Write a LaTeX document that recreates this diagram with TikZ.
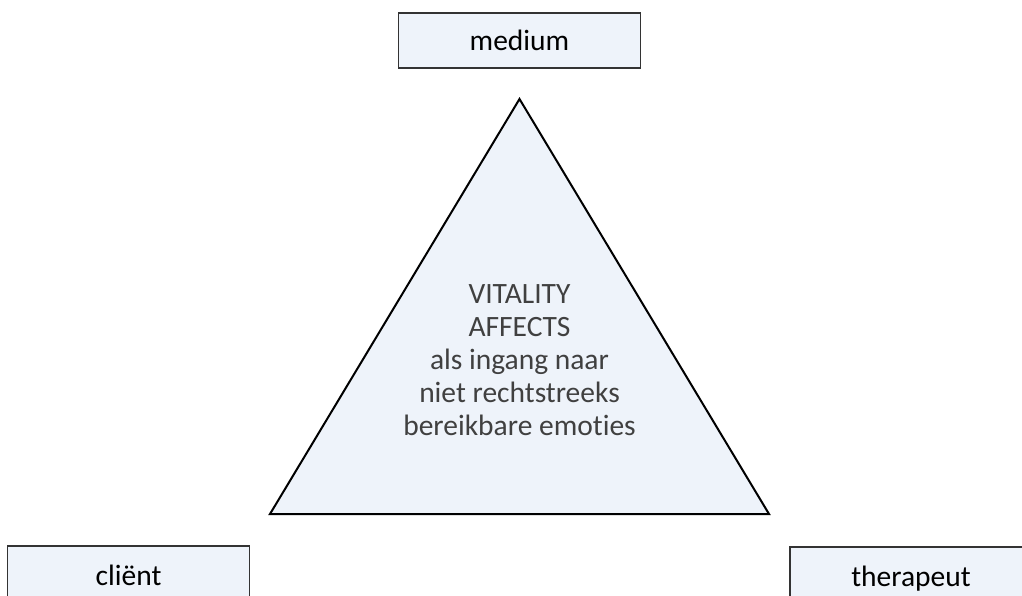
\documentclass[tikz,border=0pt]{standalone}
\usepackage{fontspec}
\setmainfont[Ligatures=NoCommon]{Carlito}
\definecolor{boxfill}{HTML}{EEF3FA}
\definecolor{boxline}{HTML}{333333}
\definecolor{tritext}{HTML}{404040}
\begin{document}
\begin{tikzpicture}[x=1pt,y=-1pt,
  rolebox/.style={draw=boxline, line width=1.3pt, fill=boxfill,
    minimum width=242pt, minimum height=55pt, inner sep=0pt,
    text height=20pt, text depth=0pt,
    font=\fontsize{29.5}{35}\selectfont, text=black},
  lowbox/.style={rolebox, text height=24pt},
  tribody/.style={draw=black, line width=2pt, fill=boxfill, line join=miter},
  tritxt/.style={align=center, text=tritext, inner sep=0pt,
    font=\fontsize{29.5}{33}\selectfont}]
\useasboundingbox (0,0) rectangle (1022,596);
\clip (0,0) rectangle (1022,596);
\fill[white] (0,0) rectangle (1022,596);
% triangle
\coordinate (apex) at (519.5,99);
\coordinate (bl) at (270,514);
\coordinate (br) at (769,514);
\draw[tribody] (apex) -- (bl) -- (br) -- cycle;
\node[tritxt] (core) at (519.5,360.5) {VITALITY\\AFFECTS\\als ingang naar\\niet rechtstreeks\\bereikbare emoties};
% boxes
\node[rolebox] (medium) at (519.5,40.5) {medium};
\node[lowbox] (client) at (128.5,573.5) {cliënt};
\node[lowbox] (therapeut) at (911,574.5) {therapeut};
\end{tikzpicture}
\end{document}
